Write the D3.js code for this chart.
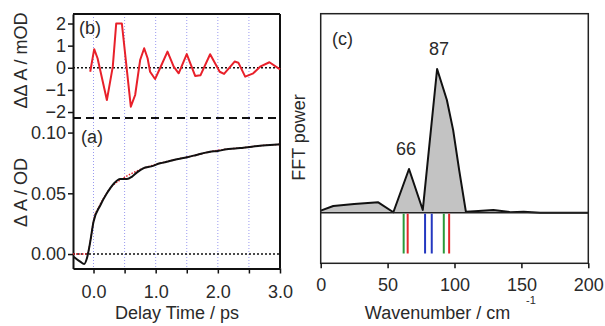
<!DOCTYPE html>
<html>
<head>
<meta charset="utf-8">
<script src="https://d3js.org/d3.v7.min.js"></script>
<style>
  body { margin: 0; background: #fff; }
  text { font-family: "Liberation Sans", Arial, sans-serif; fill: #2a2a2a; }
</style>
</head>
<body>
<svg width="605" height="326"></svg>
<script>
// --- data ---
// (b) oscillatory residual, mOD
const tB = [-0.053, 0.011, 0.065, 0.215, 0.31, 0.365, 0.456, 0.6, 0.67, 0.75, 0.815, 0.87, 0.91, 0.99, 1.07, 1.19, 1.29, 1.37, 1.50, 1.635, 1.72, 1.876, 2.03, 2.10, 2.27, 2.33, 2.44, 2.57, 2.68, 2.83, 3.0];
const vB = [-0.18, 0.84, 0.43, -1.46, 0.05, 2.0, 2.0, -1.76, -1.23, 0.35, 0.88, 0.43, -0.18, -0.51, -0.02, 0.73, 0.05, -0.25, 0.62, -0.37, -0.34, 0.61, -0.18, -0.28, 0.28, 0.23, -0.40, -0.25, 0.05, 0.25, -0.07];

// (a) transient absorption, OD
const tA = [-0.32, -0.214, -0.15, -0.106, -0.053, 0, 0.108, 0.215, 0.322, 0.43, 0.537, 0.617, 0.70, 0.80, 0.93, 1.07, 1.2, 1.34, 1.47, 1.61, 1.75, 1.876, 2.0, 2.14, 2.28, 2.41, 2.55, 2.68, 2.84, 3.0];
const vA = [-0.0022, -0.0063, -0.0082, -0.0035, 0.010, 0.0266, 0.040, 0.050, 0.0577, 0.0618, 0.0618, 0.0636, 0.0672, 0.0706, 0.0722, 0.0747, 0.0762, 0.078, 0.0792, 0.081, 0.0828, 0.0843, 0.0848, 0.0863, 0.0868, 0.0876, 0.0884, 0.0892, 0.0897, 0.0903];
const tFit = [-0.33, -0.1, -0.05, 0, 0.1, 0.2, 0.3, 0.43, 0.6, 0.8, 1.07, 1.34, 1.61, 1.88, 2.14, 2.41, 2.68, 3.0];
const vFit = [0, 0, 0.011, 0.027, 0.040, 0.049, 0.056, 0.061, 0.066, 0.0705, 0.0747, 0.078, 0.081, 0.0843, 0.0863, 0.0876, 0.0892, 0.0903];

// (c) FFT power spectrum
const wn = [0, 9.4, 25, 43, 54.3, 66, 76.3, 87, 94.3, 99, 103.5, 108.5, 115, 129, 141.7, 151.7, 164, 200];
const power = [0.014, 0.047, 0.06, 0.072, 0.003, 0.304, 0.019, 1.0, 0.784, 0.575, 0.297, 0.007, 0.010, 0.019, 0.004, 0.007, 0.0, 0.0];
const peakLabels = [66, 87];
const modes = [62, 65, 78, 83, 92, 96];
const modeColors = ["#2a9a3a", "#e3262a", "#2438c0", "#2438c0", "#2a9a3a", "#e3262a"];

const xTicks = [0, 0.5, 1, 1.5, 2, 2.5, 3];
const bTicks = [-2, -1, 0, 1, 2];
const aTicks = [0, 0.05, 0.10];
const cTicks = [0, 50, 100, 150, 200];

const svg = d3.select("svg");
const FS = 18;

// --- left panel scales ---
const x = d3.scaleLinear().domain([-0.33, 3.0]).range([73, 280]);
const yB = d3.scaleLinear().domain([-2.27, 2.43]).range([118, 14]);
const yA = d3.scaleLinear().domain([-0.0119, 0.112]).range([268.5, 118]);

// vertical dotted grid
svg.selectAll(".vgrid").data(xTicks.slice(0, -1)).join("line")
  .attr("x1", d => x(d)).attr("x2", d => x(d))
  .attr("y1", 14).attr("y2", 268)
  .attr("stroke", "#9a9af0").attr("stroke-width", 1)
  .attr("stroke-dasharray", "1,2");

// zero lines
[[yB, 0], [yA, 0]].forEach(([s, v]) => {
  svg.append("line").attr("x1", 73).attr("x2", 280)
    .attr("y1", s(v)).attr("y2", s(v))
    .attr("stroke", "#111").attr("stroke-width", 1.5).attr("stroke-dasharray", "2,2");
});

// frame pieces
svg.append("line").attr("x1", 73).attr("x2", 280).attr("y1", 14).attr("y2", 14)
  .attr("stroke", "#111").attr("stroke-width", 2);
svg.append("line").attr("x1", 280).attr("x2", 280).attr("y1", 14).attr("y2", 268.5)
  .attr("stroke", "#111").attr("stroke-width", 2);
svg.append("line").attr("x1", 73).attr("x2", 280).attr("y1", 118).attr("y2", 118)
  .attr("stroke", "#111").attr("stroke-width", 2).attr("stroke-dasharray", "8,5");

// axes
function styleAxis(g) {
  g.selectAll("path").attr("stroke", "#111").attr("stroke-width", 2);
  g.selectAll("line").attr("stroke", "#111").attr("stroke-width", 1.5);
  g.selectAll("text").attr("font-size", FS).attr("fill", "#2a2a2a")
    .style("font-family", "'Liberation Sans', Arial, sans-serif");
}
svg.append("g").attr("transform", "translate(73,0)")
  .call(d3.axisLeft(yB).tickValues(bTicks).tickSize(5).tickPadding(2).tickSizeOuter(0).tickFormat(d3.format("d")))
  .call(styleAxis);
svg.append("g").attr("transform", "translate(73,0)")
  .call(d3.axisLeft(yA).tickValues(aTicks).tickSize(5).tickPadding(2).tickSizeOuter(0).tickFormat(d3.format(".2f")))
  .call(styleAxis);
svg.append("g").attr("transform", "translate(0,268.5)")
  .call(d3.axisBottom(x).tickValues(xTicks).tickSize(5).tickPadding(12).tickSizeOuter(0)
    .tickFormat(d => Number.isInteger(d) ? d3.format(".1f")(d) : ""))
  .call(styleAxis);

// data lines
const lineB = d3.line().x((d, i) => x(tB[i])).y(d => yB(d));
svg.append("path").attr("d", lineB(vB)).attr("fill", "none")
  .attr("stroke", "#e8202a").attr("stroke-width", 2).attr("stroke-linejoin", "round");

const lineFit = d3.line().x((d, i) => x(tFit[i])).y(d => yA(d)).curve(d3.curveMonotoneX);
svg.append("path").attr("d", lineFit(vFit)).attr("fill", "none")
  .attr("stroke", "#e8202a").attr("stroke-width", 1.5).attr("stroke-dasharray", "1.5,1.5");
const lineA = d3.line().x((d, i) => x(tA[i])).y(d => yA(d)).curve(d3.curveMonotoneX);
svg.append("path").attr("d", lineA(vA)).attr("fill", "none")
  .attr("stroke", "#111").attr("stroke-width", 2);

// labels
svg.append("text").attr("x", 79).attr("y", 34).attr("font-size", FS).text("(b)");
svg.append("text").attr("x", 81).attr("y", 143).attr("font-size", FS).text("(a)");
svg.append("text").attr("transform", "translate(27,60.5) rotate(-90)")
  .attr("text-anchor", "middle").attr("font-size", FS).text("ΔΔ A / mOD");
svg.append("text").attr("transform", "translate(27,192.5) rotate(-90)")
  .attr("text-anchor", "middle").attr("font-size", FS).text("Δ A / OD");
svg.append("text").attr("x", 177).attr("y", 319).attr("text-anchor", "middle")
  .attr("font-size", FS).text("Delay Time / ps");

// --- right panel ---
const xC = d3.scaleLinear().domain([0, 200]).range([320.7, 588.3]);
const yC = d3.scaleLinear().domain([0, 1.385]).range([212.7, 13.7]);

const area = d3.area().x((d, i) => xC(wn[i])).y0(yC(0)).y1(d => yC(d));
svg.append("path").attr("d", area(power)).attr("fill", "#c3c3c3");
const lineC = d3.line().x((d, i) => xC(wn[i])).y(d => yC(d));
svg.append("path").attr("d", lineC(power)).attr("fill", "none")
  .attr("stroke", "#111").attr("stroke-width", 2).attr("stroke-linejoin", "round");

svg.append("line").attr("x1", xC(0)).attr("x2", xC(200)).attr("y1", yC(0)).attr("y2", yC(0))
  .attr("stroke", "#222").attr("stroke-width", 1.5);

svg.selectAll(".mode").data(modes).join("line")
  .attr("x1", d => xC(d)).attr("x2", d => xC(d))
  .attr("y1", yC(0) + 1).attr("y2", 253.5)
  .attr("stroke", (d, i) => modeColors[i]).attr("stroke-width", 2);

svg.append("rect").attr("x", 320.7).attr("y", 13.7).attr("width", 588.3 - 320.7).attr("height", 263.3 - 13.7)
  .attr("fill", "none").attr("stroke", "#222").attr("stroke-width", 1.5);

svg.append("g").attr("transform", "translate(0,263.3)")
  .call(d3.axisBottom(xC).tickValues(cTicks).tickSize(5).tickPadding(10).tickSizeOuter(0))
  .call(styleAxis)
  .call(g => g.select("path").remove());

svg.selectAll(".pk").data(peakLabels).join("text")
  .attr("x", d => xC(d) + (d === 87 ? 2 : -3))
  .attr("y", d => d === 87 ? 55 : 155)
  .attr("text-anchor", "middle").attr("font-size", FS).text(d => d);

svg.append("text").attr("x", 332).attr("y", 45).attr("font-size", FS).text("(c)");
svg.append("text").attr("transform", "translate(305,137.5) rotate(-90)")
  .attr("text-anchor", "middle").attr("font-size", FS).text("FFT power");
svg.append("text").attr("x", 437.5).attr("y", 319).attr("text-anchor", "middle")
  .attr("font-size", FS).text("Wavenumber / cm");
svg.append("text").attr("x", 526).attr("y", 304).attr("font-size", 11).text("-1");
</script>
</body>
</html>
